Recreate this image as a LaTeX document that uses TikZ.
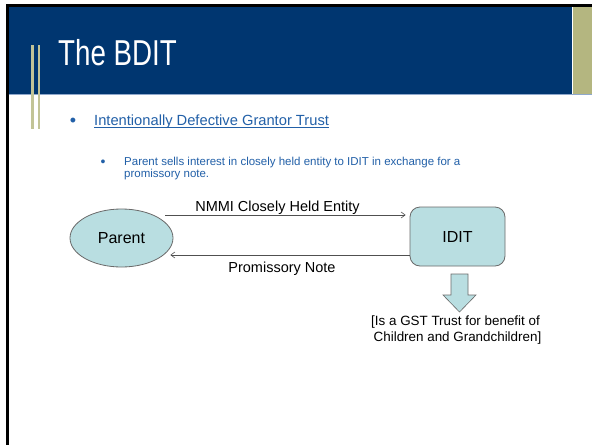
\documentclass[tikz,border=0pt]{standalone}
\usepackage{fontspec}
\setmainfont{Liberation Sans}
\usetikzlibrary{shapes.geometric,arrows.meta}
\definecolor{hdr}{HTML}{003670}
\definecolor{olivebox}{HTML}{B4B680}
\definecolor{barcol}{HTML}{C2C497}
\definecolor{hdrline}{HTML}{8FA8CC}
\definecolor{txtblue}{HTML}{2260A8}
\definecolor{shfill}{HTML}{B9DEE1}
\definecolor{shdraw}{HTML}{6A6A6A}
\definecolor{conncol}{HTML}{505050}
\tikzset{
  txt/.style={inner sep=0pt, anchor=base},
  shapebox/.style={draw=shdraw, fill=shfill, line width=0.8pt, inner sep=0pt, font=\fontsize{16}{19}\selectfont},
  conn/.style={draw=conncol, line width=0.6pt, -{Straight Barb[length=4pt,width=6pt]}},
  lbl/.style={txt, font=\fontsize{14.5}{17}\selectfont},
}
\begin{document}
\begin{tikzpicture}[x=1pt,y=-1pt]
\useasboundingbox (0,0) rectangle (592,445);
\fill[white] (0,0) rectangle (592,445);
% frame and header
\fill[black] (6,4) rectangle (592,7);
\fill[black] (6,4) rectangle (8.5,445);
\fill[hdr] (8.5,7) rectangle (572,94);
\fill[olivebox] (573,7) rectangle (592,94);
\draw[hdrline, line width=1pt] (8.5,94.5) -- (592,94.5);
\fill[barcol] (31,45) rectangle (33.5,129);
\fill[barcol] (37.5,45) rectangle (40,129);
\node[txt, anchor=base west, text=white, font=\fontsize{36}{40}\selectfont] (title) at (58,65) {\scalebox{0.77}[1]{The BDIT}};
% bullets
\node[txt, text=txtblue, font=\fontsize{18}{20}\selectfont] (b1) at (73,126) {•};
\node[txt, anchor=base west, text=txtblue, font=\fontsize{14.7}{17}\selectfont] (t1) at (94,125) {Intentionally Defective Grantor Trust};
\draw[txtblue, line width=0.8pt] ([yshift=-2pt]t1.base west) -- ([yshift=-2pt]t1.base east);
\node[txt, text=txtblue, font=\fontsize{14}{16}\selectfont] (b2) at (103,166) {•};
\node[txt, anchor=base west, text=txtblue, font=\fontsize{11.5}{13}\selectfont] (t2a) at (124,165) {Parent sells interest in closely held entity to IDIT in exchange for a};
\node[txt, anchor=base west, text=txtblue, font=\fontsize{11.5}{13}\selectfont] (t2b) at (124,177) {promissory note.};
% diagram
\node[shapebox, ellipse, minimum width=103pt, minimum height=58pt] (parent) at (121.5,238) {Parent};
\node[shapebox, rectangle, rounded corners=10pt, minimum width=95pt, minimum height=59pt] (idit) at (457.5,236.5) {IDIT};
\draw[conn] ([shift={(-8,-23)}]parent.east) -- ([shift={(-4,-21.5)}]idit.west);
\draw[conn] ([shift={(0,18.5)}]idit.west) -- ([shift={(-3,17)}]parent.east);
\node[lbl] (l1) at (277.5,211) {NMMI Closely Held Entity};
\node[lbl] (l2) at (282,272) {Promissory Note};
\draw[draw=shdraw, fill=shfill, line width=0.6pt] (451,274) -- (468,274) -- (468,295) -- (476,295) -- (459.5,312) -- (443,295) -- (451,295) -- cycle;
\node[txt, font=\fontsize{13.4}{16}\selectfont] (g1) at (455.5,325) {[Is a GST Trust for benefit of};
\node[txt, font=\fontsize{13.4}{16}\selectfont] (g2) at (457.5,341) {Children and Grandchildren]};
\end{tikzpicture}
\end{document}
